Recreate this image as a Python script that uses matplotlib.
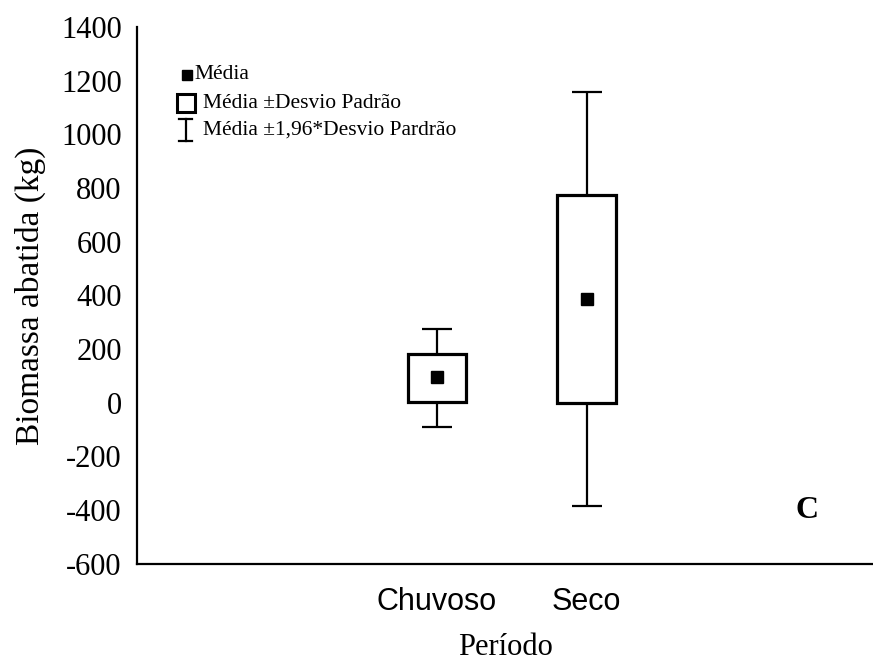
import numpy as np
import matplotlib.pyplot as plt

# values (kg)
periods = ['Chuvoso', 'Seco']
media = [97, 387]
box_lo = [3, -2]
box_hi = [182, 774]
whisk_lo = [-90, -384]
whisk_hi = [275, 1157]
yticks = [-600, -400, -200, 0, 200, 400, 600, 800, 1000, 1200, 1400]

serif = 'Liberation Serif'
sans = 'Liberation Sans'

fig = plt.figure(figsize=(8.73, 6.61), dpi=100)
ax = fig.add_axes([0.157, 0.147, 0.843, 0.812])

pos = np.arange(len(periods)) + 2

# box = mean +- sd
ax.bar(pos, np.array(box_hi) - np.array(box_lo), bottom=box_lo, width=0.39,
       facecolor='white', edgecolor='black', linewidth=2.3, zorder=2)
# whiskers = mean +- 1.96 sd
ax.vlines(pos, whisk_lo, box_lo, color='black', lw=1.6, zorder=1)
ax.vlines(pos, box_hi, whisk_hi, color='black', lw=1.6, zorder=1)
ax.hlines(whisk_lo, pos - 0.1, pos + 0.1, color='black', lw=1.6)
ax.hlines(whisk_hi, pos - 0.1, pos + 0.1, color='black', lw=1.6)
ax.plot(pos, media, 's', color='black', ms=8, zorder=3)

ax.set_xlim(0, 4.91)
ax.set_ylim(-600, 1400)
ax.set_yticks(yticks)
ax.set_yticklabels([str(v) for v in yticks], family=serif, fontsize=22)
ax.set_xticks(pos)
ax.set_xticklabels(periods, family=sans, fontsize=22)
ax.tick_params(axis='both', length=0)
ax.tick_params(axis='y', pad=11)
ax.tick_params(axis='x', pad=17)

for s in ['top', 'right']:
    ax.spines[s].set_visible(False)
for s in ['left', 'bottom']:
    ax.spines[s].set_linewidth(1.6)

ax.set_ylabel('Biomassa abatida (kg)', family=serif, fontsize=24, labelpad=11)
ax.set_xlabel('Período', family=serif, fontsize=22, labelpad=11)

# legend drawn by hand
tr = ax.transAxes
ax.plot([0.068], [0.911], 's', color='black', ms=7, transform=tr, clip_on=False)
ax.text(0.078, 0.911, 'Média', transform=tr, family=serif, fontsize=15.5, va='center')
ax.plot([0.066], [0.858], 's', mfc='white', mec='black', mew=2.2, ms=13,
        transform=tr, clip_on=False)
ax.text(0.089, 0.858, 'Média ±Desvio Padrão', transform=tr, family=serif,
        fontsize=15.5, va='center')
ax.plot([0.066, 0.066], [0.787, 0.829], color='black', lw=1.6, transform=tr)
ax.plot([0.057, 0.075], [0.787, 0.787], color='black', lw=1.6, transform=tr)
ax.plot([0.057, 0.075], [0.829, 0.829], color='black', lw=1.6, transform=tr)
ax.text(0.089, 0.808, 'Média ±1,96*Desvio Pardrão', transform=tr, family=serif,
        fontsize=15.5, va='center')

ax.text(0.91, 0.10, 'C', transform=tr, family=serif, fontsize=23,
        fontweight='bold', ha='center', va='center')

fig.savefig('out.png', dpi=100)
